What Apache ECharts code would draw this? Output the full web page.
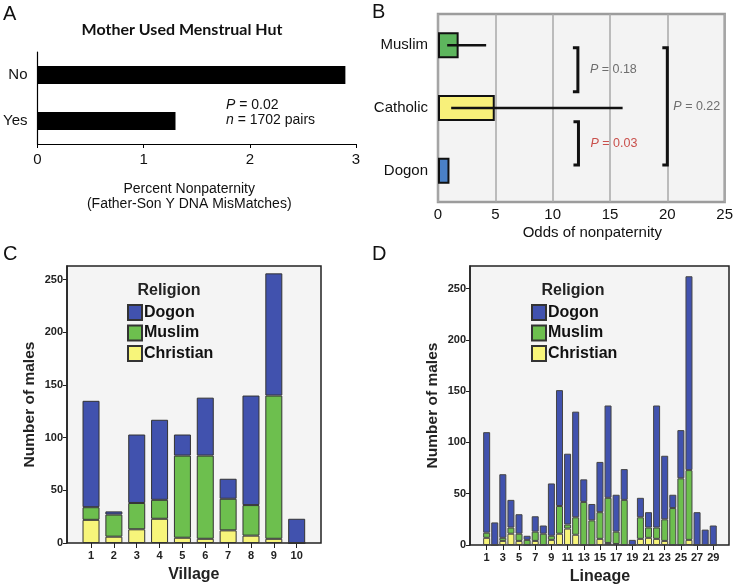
<!DOCTYPE html>
<html><head><meta charset="utf-8">
<script src="https://cdn.jsdelivr.net/npm/echarts@6/dist/echarts.min.js"></script>
<style>html,body{margin:0;padding:0;background:#fff}#c{width:736px;height:587px}</style>
</head><body><div id="c"></div>
<script>
// ---- Panel A: menstrual hut ----
const hutCategories = ['No', 'Yes'];
const hutValues = [2.9, 1.3];

// ---- Panel B: odds of nonpaternity ----
const oddsCategories = ['Muslim', 'Catholic', 'Dogon'];
const oddsValues = [1.8, 4.95, 1.0];
const oddsLow = [0.8, 1.15, null];
const oddsHigh = [4.2, 16.1, null];
// comparison brackets: x position (odds), start/end (category index units), p-value
const compX = [12.2, 12.25, 20];
const compStart = [0.04, 1.22, 0.04];
const compEnd = [0.74, 1.91, 1.91];
const compP = ['0.18', '0.03', '0.22'];

// ---- Panel C: villages ----
const villages = ['1', '2', '3', '4', '5', '6', '7', '8', '9', '10'];
const villageChristian = [22, 6, 13, 23, 5, 4, 12, 7, 4, 0];
const villageMuslim = [12, 21, 25, 18, 78, 79, 30, 29, 136, 0];
const villageDogon = [101, 3, 65, 76, 20, 55, 19, 104, 116, 23];

// ---- Panel D: lineages ----
const lineages = ['1','2','3','4','5','6','7','8','9','10','11','12','13','14','15','16','17','18','19','20','21','22','23','24','25','26','27','28','29'];
const lineageChristian = [7,0,4,11,4,0,4,0,5,11,16,10,0,0,6,2,1,0,0,6,7,6,4,0,0,5,0,0,0];
const lineageMuslim = [5,0,3,6,7,5,9,11,4,27,4,17,42,24,26,44,12,44,0,21,10,11,21,36,65,68,0,0,0];
const lineageDogon = [98,22,62,27,19,4,15,8,51,113,69,103,22,16,49,90,36,30,5,19,15,119,62,13,47,189,32,15,19];
const countTicks = [0, 50, 100, 150, 200, 250];
const villageMax = 263, lineageMax = 272;

const FONT = 'Liberation Sans, Arial, sans-serif';
const colDogon = '#4152ae', colMuslim = '#6dbf4e', colChristian = '#f7f57a';

const chart = echarts.init(document.getElementById('c'), null, {renderer: 'canvas'});

function stackSeries(name, ys, color, axisIdx, stack, bw, border) {
  return {
    type: 'bar', name, stack, xAxisIndex: axisIdx, yAxisIndex: axisIdx,
    barWidth: bw, data: ys,
    itemStyle: {color, borderColor: border, borderWidth: 1},
    emphasis: {disabled: true}
  };
}

const boldAxisLabel = {fontFamily: FONT, fontWeight: 'bold', fontSize: 11, color: '#222'};
const hidden = {show: false};

function frameY(gridIndex, max) {
  return {gridIndex, type: 'value', min: 0, max,
    axisLine: {show: true, lineStyle: {color: '#222', width: 1.5}},
    axisTick: {show: true, length: 4, customValues: countTicks, lineStyle: {color: '#222'}},
    axisLabel: Object.assign({customValues: countTicks, margin: 4}, boldAxisLabel),
    splitLine: hidden,
    name: 'Number of males', nameLocation: 'middle', nameGap: 29, nameRotate: 90,
    nameTextStyle: {fontFamily: FONT, fontWeight: 'bold', fontSize: 15.5, color: '#222'}};
}
function dataX(gridIndex, cats, name, every) {
  return {gridIndex, type: 'category', data: cats, boundaryGap: true,
    axisLine: {show: false},
    axisTick: {show: true, length: 5, alignWithLabel: true, interval: every, lineStyle: {color: '#222'}},
    axisLabel: Object.assign({interval: every, margin: 7}, boldAxisLabel),
    name, nameLocation: 'middle', nameGap: 24,
    nameTextStyle: {fontFamily: FONT, fontWeight: 'bold', fontSize: 16, color: '#222'}};
}

const option = {
  animation: false,
  grid: [
    {left: 37, top: 52, width: 319, height: 92},
    {left: 438, top: 14, width: 288, height: 188, show: true, backgroundColor: '#f3f3f3', borderColor: '#9c9c9c', borderWidth: 2.5},
    // C frame + data area
    {left: 67, top: 266, width: 254, height: 277, show: true, backgroundColor: '#f4f4f4', borderColor: '#222', borderWidth: 1.5},
    {left: 79.6, top: 266, width: 228.5, height: 277},
    // D frame + data area
    {left: 470, top: 266, width: 259, height: 279, show: true, backgroundColor: '#f4f4f4', borderColor: '#222', borderWidth: 1.5},
    {left: 482.6, top: 266, width: 234.7, height: 279}
  ],
  xAxis: [
    {gridIndex: 0, type: 'value', min: 0, max: 3, interval: 1,
     axisLine: {show: true, lineStyle: {color: '#000', width: 1.2}},
     axisTick: {show: true, length: 4, lineStyle: {color: '#000'}},
     splitLine: hidden,
     axisLabel: {fontFamily: FONT, fontSize: 15, color: '#111', margin: 8},
     name: 'Percent Nonpaternity\n(Father-Son Y DNA MisMatches)', nameLocation: 'middle', nameGap: 38,
     nameTextStyle: {fontFamily: FONT, fontSize: 14, color: '#111', lineHeight: 15, padding: [0, 15, 0, 0]}},
    {gridIndex: 1, type: 'value', min: 0, max: 25, interval: 5,
     axisLine: hidden, axisTick: hidden,
     splitLine: {show: true, lineStyle: {color: '#a8a8a8', width: 1.5}},
     axisLabel: {fontFamily: FONT, fontSize: 15, color: '#111', margin: 5},
     name: 'Odds of nonpaternity', nameLocation: 'middle', nameGap: 23,
     nameTextStyle: {fontFamily: FONT, fontSize: 15, color: '#111', padding: [0, 0, 0, 22]}},
    {gridIndex: 2, type: 'value', show: false},
    dataX(3, villages, 'Village', 0),
    {gridIndex: 4, type: 'value', show: false},
    dataX(5, lineages, 'Lineage', 1)
  ],
  yAxis: [
    {gridIndex: 0, type: 'category', data: hutCategories, inverse: true,
     axisLine: {show: true, lineStyle: {color: '#000', width: 1.2}},
     axisTick: hidden,
     axisLabel: {fontFamily: FONT, fontSize: 15, color: '#111', margin: 10}},
    {gridIndex: 1, type: 'category', data: oddsCategories, inverse: true,
     axisLine: hidden, axisTick: hidden,
     axisLabel: {fontFamily: FONT, fontSize: 15, color: '#111', margin: 10}},
    frameY(2, villageMax),
    {gridIndex: 3, type: 'value', min: 0, max: villageMax, show: false},
    frameY(4, lineageMax),
    {gridIndex: 5, type: 'value', min: 0, max: lineageMax, show: false}
  ],
  legend: [
    {data: ['Dogon', 'Muslim', 'Christian'], orient: 'vertical', left: 127, top: 304, padding: 0,
     itemWidth: 14, itemHeight: 15, itemGap: 3.5, selectedMode: false, icon: 'rect',
     textStyle: {fontFamily: FONT, fontWeight: 'bold', fontSize: 16, color: '#111', padding: [0, 0, 0, -3]}},
    {data: ['Dogon', 'Muslim', 'Christian'], orient: 'vertical', left: 531, top: 304, padding: 0,
     itemWidth: 14, itemHeight: 15, itemGap: 3.5, selectedMode: false, icon: 'rect',
     textStyle: {fontFamily: FONT, fontWeight: 'bold', fontSize: 16, color: '#111', padding: [0, 0, 0, -3]}}
  ],
  graphic: [
    {type: 'text', left: 3, top: 4, style: {text: 'A', font: '20px ' + FONT, fill: '#111'}},
    {type: 'text', left: 372, top: 2, style: {text: 'B', font: '20px ' + FONT, fill: '#111'}},
    {type: 'text', left: 3, top: 244, style: {text: 'C', font: '20px ' + FONT, fill: '#111'}},
    {type: 'text', left: 372, top: 244, style: {text: 'D', font: '20px ' + FONT, fill: '#111'}},
    {type: 'text', x: 182, y: 30, style: {text: 'Mother Used Menstrual Hut', font: 'bold 16px Lato, ' + FONT, fill: '#111', align: 'center', verticalAlign: 'middle'}},
    {type: 'text', x: 226, y: 105, style: {text: '{i|P} = 0.02', font: '14px ' + FONT, fill: '#111', verticalAlign: 'middle',
      rich: {i: {fontStyle: 'italic', fontSize: 14, fontFamily: FONT, fill: '#111'}}}},
    {type: 'text', x: 226, y: 120, style: {text: '{i|n} = 1702 pairs', font: '14px ' + FONT, fill: '#111', verticalAlign: 'middle',
      rich: {i: {fontStyle: 'italic', fontSize: 14, fontFamily: FONT, fill: '#111'}}}},
    {type: 'text', x: 169, y: 291, style: {text: 'Religion', font: 'bold 16px ' + FONT, fill: '#222', align: 'center', verticalAlign: 'middle'}},
    {type: 'text', x: 573, y: 291, style: {text: 'Religion', font: 'bold 16px ' + FONT, fill: '#222', align: 'center', verticalAlign: 'middle'}}
  ],
  series: [
    {type: 'bar', xAxisIndex: 0, yAxisIndex: 0, data: hutValues, barWidth: 18,
     itemStyle: {color: '#000'}},
    {type: 'bar', xAxisIndex: 1, yAxisIndex: 1, barWidth: 26,
     data: oddsValues.map((v, i) => ({value: v, itemStyle: {color: ['#5db55d', '#f8f07a', '#4a80c6'][i]}})),
     itemStyle: {borderColor: '#111', borderWidth: 2}},
    {type: 'custom', xAxisIndex: 1, yAxisIndex: 1, z: 5,
     data: oddsLow.map((lo, i) => [lo, oddsHigh[i], i]).filter(d => d[0] != null),
     encode: {x: [0, 1], y: 2},
     renderItem: function (params, api) {
       const p1 = api.coord([api.value(0), api.value(2)]);
       const p2 = api.coord([api.value(1), api.value(2)]);
       return {type: 'line', shape: {x1: p1[0], y1: p1[1], x2: p2[0], y2: p2[1]},
               style: {stroke: '#111', lineWidth: 2.5}};
     }},
    {type: 'custom', xAxisIndex: 1, yAxisIndex: 1, z: 5,
     data: compX.map((x, i) => [x, compStart[i], compEnd[i], i]),
     encode: {x: 0},
     renderItem: function (params, api) {
       const i = api.value(3);
       const y0 = api.coord([0, 0])[1];
       const step = api.coord([0, 1])[1] - y0;
       const x = api.coord([api.value(0), 0])[0];
       const yA = y0 + api.value(1) * step, yB = y0 + api.value(2) * step;
       const sig = parseFloat(compP[i]) < 0.05;
       const col = sig ? '#c9504c' : '#6e6e6e';
       return {type: 'group', children: [
         {type: 'polyline', shape: {points: [[x - 5, yA], [x, yA], [x, yB], [x - 5, yB]]},
          style: {stroke: '#111', lineWidth: 3, fill: null}},
         {type: 'text', x: x + (i === 2 ? 6 : 12), y: (yA + yB) / 2,
          style: {text: '{i|P} = ' + compP[i], font: '12.5px ' + FONT, fill: col, verticalAlign: 'middle',
                  rich: {i: {fontStyle: 'italic', fontSize: 12.5, fontFamily: FONT, fill: col}}}}
       ]};
     }},
    stackSeries('Christian', villageChristian, colChristian, 3, 'village', 17, '#333'),
    stackSeries('Muslim', villageMuslim, colMuslim, 3, 'village', 17, '#333'),
    stackSeries('Dogon', villageDogon, colDogon, 3, 'village', 17, '#333'),
    stackSeries('Christian', lineageChristian, colChristian, 5, 'lineage', 7, '#444'),
    stackSeries('Muslim', lineageMuslim, colMuslim, 5, 'lineage', 7, '#444'),
    stackSeries('Dogon', lineageDogon, colDogon, 5, 'lineage', 7, '#444')
  ]
};
chart.setOption(option);
</script>
</body></html>
